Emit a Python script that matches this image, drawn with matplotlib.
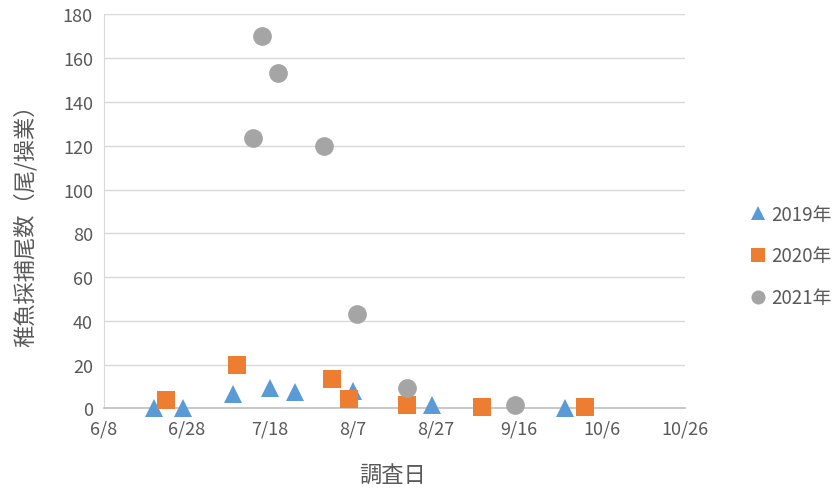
"""
Juvenile catch per haul by survey date, 2019-2021.
"""
import matplotlib
matplotlib.use('Agg')
import matplotlib.pyplot as plt
import matplotlib.dates as mdates
import pandas as pd

plt.rcParams['font.family'] = ['Noto Sans CJK JP', 'DejaVu Sans']

# survey dates (month/day) and catch per haul
dates_2019 = ['6/20', '6/27', '7/9', '7/18', '7/24', '8/7', '8/26', '9/27']
catch_2019 = [0, 0, 6.6, 9.3, 7.5, 8, 1.6, 0]

dates_2020 = ['6/23', '7/10', '8/2', '8/6', '8/20', '9/7', '10/2']
catch_2020 = [4, 20, 13.5, 4.5, 1.6, 0.9, 0.5]

dates_2021 = ['7/14', '7/16', '7/20', '7/31', '8/8', '8/20', '9/15']
catch_2021 = [123.5, 170, 153, 120, 43, 9.5, 1.5]

x_start, x_end = '6/8', '10/26'
ylabel = '稚魚採捕尾数（尾/操業）'
xlabel = '調査日'


def to_dates(md_list):
    # all seasons share one month/day axis
    return pd.to_datetime(['2021/' + md for md in md_list], format='%Y/%m/%d')


series = [
    ('2019年', dates_2019, catch_2019, '^', '#5B9BD5'),
    ('2020年', dates_2020, catch_2020, 's', '#ED7D31'),
    ('2021年', dates_2021, catch_2021, 'o', '#A5A5A5'),
]

fig = plt.figure(figsize=(8.34, 4.89), dpi=100)
ax = fig.add_axes([0.1247, 0.1626, 0.6966, 0.806])

for label, d, v, marker, color in series:
    ax.plot(to_dates(d), v, linestyle='none', marker=marker, markersize=13.5,
            color=color, markeredgewidth=0, label=label, zorder=3, clip_on=False)

start = to_dates([x_start])[0]
end = to_dates([x_end])[0]
ax.set_xlim(start, end)
ax.set_xticks(pd.date_range(start, end, freq='20D'))
ax.xaxis.set_major_formatter(mdates.DateFormatter('%-m/%-d'))

ax.set_ylim(0, 180)
ax.set_yticks(range(0, 181, 20))

ax.grid(axis='y', color='#D9D9D9', linewidth=1)
ax.set_axisbelow(True)
for side in ['top', 'right']:
    ax.spines[side].set_visible(False)
ax.spines['left'].set_color('#D9D9D9')
ax.spines['bottom'].set_color('#BFBFBF')
ax.spines['bottom'].set_linewidth(1.2)
ax.tick_params(length=0, labelsize=13, labelcolor='#595959', pad=8)

ax.set_ylabel(ylabel, fontsize=16, color='#595959', va='center', ha='center')
ax.yaxis.set_label_coords(-0.135, 0.48)
ax.set_xlabel(xlabel, fontsize=16, color='#595959', va='center', ha='center')
ax.xaxis.set_label_coords(0.496, -0.166)

leg = ax.legend(loc='center left', bbox_to_anchor=(1.08, 0.387), frameon=False,
                fontsize=13.5, markerscale=0.75, handletextpad=0.2,
                labelspacing=1.1, labelcolor='#595959', handlelength=1.0)

fig.savefig('out.png', dpi=100)
